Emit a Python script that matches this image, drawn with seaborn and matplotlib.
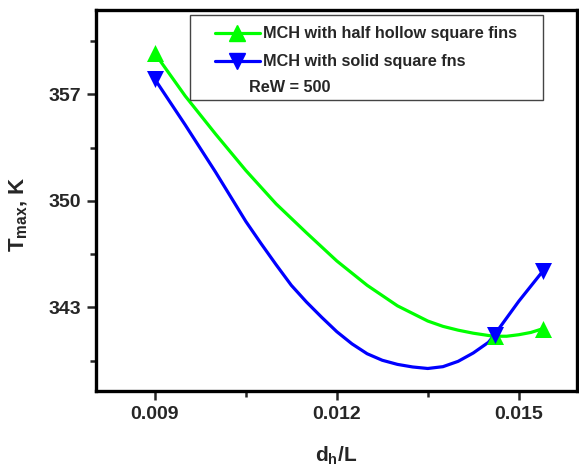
import matplotlib
matplotlib.use('Agg')
import matplotlib.pyplot as plt
from matplotlib.lines import Line2D
from matplotlib.patches import Rectangle
from matplotlib.ticker import MultipleLocator
import seaborn as sns
import pandas as pd

# marker points
dh_L = [0.009, 0.0146, 0.0154]
t_hollow = [359.7, 341.1, 341.6]
t_solid = [358.0, 341.2, 345.4]

# values
curve_x_hollow = [0.009, 0.0095, 0.010, 0.0105, 0.011, 0.0115, 0.012, 0.0125,
                  0.013, 0.0135, 0.01375, 0.014, 0.01425, 0.0145, 0.0146,
                  0.0148, 0.015, 0.0152, 0.0154]
curve_t_hollow = [359.7, 356.9, 354.4, 352.0, 349.8, 347.9, 346.05, 344.45,
                  343.1, 342.1, 341.75, 341.5, 341.3, 341.15, 341.1,
                  341.1, 341.2, 341.35, 341.6]
curve_x_solid = [0.009, 0.0095, 0.010, 0.0105, 0.01075, 0.011, 0.01125,
                 0.0115, 0.01175, 0.012, 0.01225, 0.0125, 0.01275, 0.013,
                 0.01325, 0.0135, 0.01375, 0.014, 0.01425, 0.0145, 0.0146,
                 0.0148, 0.015, 0.0152, 0.0154]
curve_t_solid = [358.0, 355.0, 351.9, 348.65, 347.2, 345.8, 344.45,
                 343.35, 342.35, 341.4, 340.6, 339.95, 339.52, 339.25,
                 339.08, 338.98, 339.1, 339.45, 340.0, 340.7, 341.2,
                 342.3, 343.4, 344.4, 345.4]

labels = ['MCH with half hollow square fins', 'MCH with solid square fns']
green = '#00ff00'
blue = '#0000ff'

sns.set_style('ticks')
plt.rcParams['font.family'] = ['Liberation Sans', 'DejaVu Sans']
plt.rcParams['font.weight'] = 'bold'
plt.rcParams['axes.labelweight'] = 'bold'
plt.rcParams['mathtext.fontset'] = 'custom'
plt.rcParams['mathtext.bf'] = 'Liberation Sans:bold'
plt.rcParams['mathtext.rm'] = 'Liberation Sans:bold'
plt.rcParams['mathtext.default'] = 'bf'

fig = plt.figure(figsize=(5.79, 4.69), dpi=100, facecolor='white')
ax = fig.add_axes([96 / 579, 1 - 391 / 469, 481 / 579, 381 / 469])

sns.lineplot(x=curve_x_hollow, y=curve_t_hollow, color=green, lw=2.3,
             sort=False, estimator=None, ax=ax)
sns.lineplot(x=curve_x_solid, y=curve_t_solid, color=blue, lw=2.3,
             sort=False, estimator=None, ax=ax)
sns.scatterplot(x=dh_L, y=t_hollow, marker='^', color=green, s=150,
                linewidth=0, ax=ax, zorder=4)
sns.scatterplot(x=dh_L, y=t_solid, marker='v', color=blue, s=150,
                linewidth=0, ax=ax, zorder=5)

ax.set_xlim(0.00803, 0.01596)
ax.set_ylim(337.5, 362.55)
ax.set_xticks([0.009, 0.012, 0.015])
ax.set_xticklabels(['0.009', '0.012', '0.015'])
ax.set_yticks([343, 350, 357])
ax.xaxis.set_minor_locator(MultipleLocator(0.0015))
ax.yaxis.set_minor_locator(MultipleLocator(3.5))

for s in ax.spines.values():
    s.set_linewidth(2.4)
    s.set_color('black')
ax.tick_params(which='major', length=6.5, width=1.8, direction='out', pad=4)
ax.tick_params(which='minor', length=4.3, width=1.8, direction='out')
tick_font = ['Liberation Sans Narrow', 'Liberation Sans', 'DejaVu Sans']
for lab in ax.get_xticklabels() + ax.get_yticklabels():
    lab.set_family(tick_font)
    lab.set_fontsize(14)
    lab.set_fontweight('bold')

ax.set_xlabel('$d_h$/L', fontsize=15, fontweight='bold')
ax.set_ylabel('$T_{max}$, K', fontsize=16, fontweight='bold')
ax.xaxis.set_label_coords(0.5, -0.14)
ax.yaxis.set_label_coords(-0.137, 0.465)

handles = [Line2D([], [], color=green, lw=2.3, marker='^', markersize=12),
           Line2D([], [], color=blue, lw=2.3, marker='v', markersize=12)]
ax.legend(handles, labels, loc='upper left', bbox_to_anchor=(0.247, 0.957),
          frameon=False, handlelength=2.77, handletextpad=0.2,
          labelspacing=0.8, borderpad=0, borderaxespad=0,
          prop={'weight': 'bold', 'size': 11.7})
ax.add_patch(Rectangle((0.195, 0.764), 0.734, 0.223, transform=ax.transAxes,
                       fill=False, edgecolor='#444444', lw=1.0, zorder=6))
ax.text(0.318, 0.797, 'ReW = 500', transform=ax.transAxes, fontsize=11.7,
        fontweight='bold', va='center', ha='left')

fig.savefig('out.png', dpi=100)
